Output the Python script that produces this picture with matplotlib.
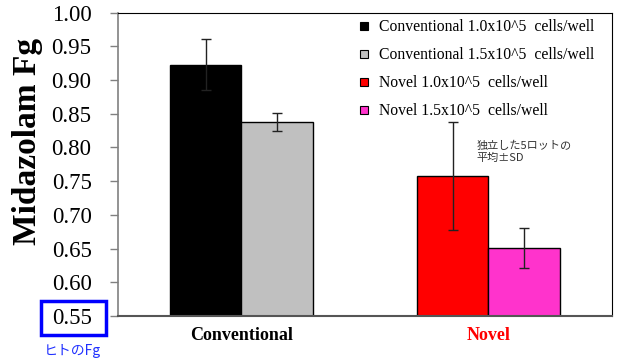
import matplotlib

matplotlib.use("Agg")
import matplotlib.pyplot as plt
from matplotlib.lines import Line2D
from matplotlib.patches import Rectangle

GROUPS = ["Conventional", "Novel"]
GROUP_COLORS = ["black", "red"]
SERIES = [
    "Conventional 1.0x10^5  cells/well",
    "Conventional 1.5x10^5  cells/well",
    "Novel 1.0x10^5  cells/well",
    "Novel 1.5x10^5  cells/well",
]
# (group index, offset side) for each series
SERIES_GROUP = [0, 0, 1, 1]
SERIES_SIDE = [-1, 1, -1, 1]
MEANS = [0.923, 0.838, 0.758, 0.651]
SDS = [0.038, 0.013, 0.080, 0.030]
COLORS = ["#000000", "#C0C0C0", "#FF0000", "#FF33CC"]
YTICKS = [0.55, 0.60, 0.65, 0.70, 0.75, 0.80, 0.85, 0.90, 0.95, 1.00]

SERIF = "Liberation Serif"
CJK = ["Noto Sans CJK JP", "DejaVu Sans"]

fig = plt.figure(figsize=(6.19, 3.62), dpi=100)
ax = fig.add_axes([0.1906, 0.127, 0.7981, 0.838])

width = 0.29
for i in range(len(SERIES)):
    x = SERIES_GROUP[i] + SERIES_SIDE[i] * width / 2
    ax.bar(x, MEANS[i], width=width, bottom=0, color=COLORS[i],
           edgecolor="black", linewidth=1.0, zorder=2)
    ax.errorbar(x, MEANS[i], yerr=SDS[i], fmt="none", ecolor="#222222",
                elinewidth=1.0, capsize=3.5, capthick=1.0, zorder=3)

ax.set_xlim(-0.5, 1.5)
ax.set_ylim(0.55, 1.00)
ax.set_yticks(YTICKS)
ax.set_yticklabels([f"{v:.2f}" for v in YTICKS], fontfamily=SERIF, fontsize=16.5)
ax.tick_params(axis="y", direction="out", length=6, color="#808080", width=1.0, pad=13)

ax.set_xticks(range(len(GROUPS)))
ax.set_xticklabels(GROUPS, fontfamily=SERIF, fontsize=13, fontweight="bold")
for lbl, c in zip(ax.get_xticklabels(), GROUP_COLORS):
    lbl.set_color(c)
ax.tick_params(axis="x", length=0, pad=8)

ax.spines["left"].set_color("#808080")
ax.spines["bottom"].set_color("#555555")
ax.spines["left"].set_linewidth(1.2)
ax.spines["bottom"].set_linewidth(1.5)
ax.spines["top"].set_color("black")
ax.spines["right"].set_color("black")

ax.set_ylabel("Midazolam Fg", fontfamily=SERIF, fontsize=24, fontweight="bold")
ax.yaxis.set_label_coords(-0.152, 0.577)

handles = [
    Line2D([], [], marker="s", linestyle="none", markersize=5.5,
           markerfacecolor=COLORS[i], markeredgecolor="black", markeredgewidth=0.8)
    for i in range(len(SERIES))
]
ax.legend(handles, SERIES, loc="upper right", bbox_to_anchor=(0.993, 1.025),
          frameon=False, prop={"family": SERIF, "size": 11.3},
          handlelength=0.5, handletextpad=0.7, labelspacing=0.76, borderaxespad=0.5)

ax.text(0.725, 0.505, "独立した5ロットの\n平均±SD", transform=ax.transAxes,
        fontfamily=CJK, fontsize=8, color="#333333", va="bottom", ha="left",
        linespacing=1.25)

# highlight of the human Fg value
fig.add_artist(Rectangle((41 / 619, 1 - 335 / 362), 65 / 619, 34 / 362,
                         transform=fig.transFigure, fill=False,
                         edgecolor="#0000FF", linewidth=2.5))
fig.text(72 / 619, 1 - 351 / 362, "ヒトのFg", fontfamily=CJK, fontsize=10,
         color="#2030FF", ha="center", va="center")

fig.savefig("out.png", dpi=100)
